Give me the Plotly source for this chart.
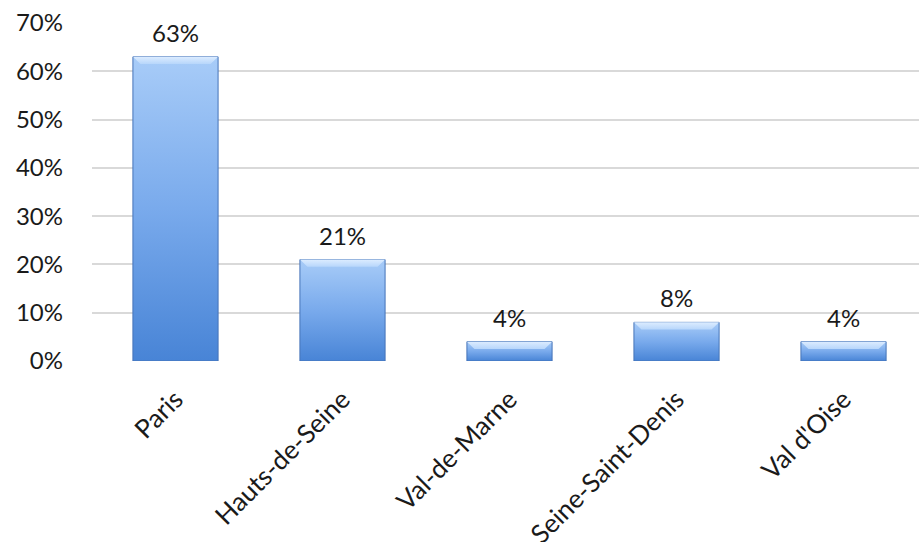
import plotly.graph_objects as go

# Share of respondents by département
categories = ["Paris", "Hauts-de-Seine", "Val-de-Marne", "Seine-Saint-Denis", "Val d'Oise"]
shares = [63, 21, 4, 8, 4]          # percent
y_ticks = [0, 10, 20, 30, 40, 50, 60, 70]
y_tick_labels = [f"{t}%" for t in y_ticks]

FONT = "Lato, 'Open Sans', sans-serif"
BAR_HALF = 0.255      # half bar width in category units
BEVEL_X = 0.045       # top bevel inset (category units)
BEVEL_Y = 1.5         # top bevel depth (percent units)

positions = list(range(len(categories)))
fig = go.Figure()

for x, v in zip(positions, shares):
    x0, x1 = x - BAR_HALF, x + BAR_HALF
    # bar body with vertical gradient, darker at the base
    fig.add_trace(go.Scatter(
        x=[x0, x1, x1, x0, x0], y=[0, 0, v, v, 0],
        mode="lines", fill="toself",
        line=dict(color="#4674b8", width=1),
        fillgradient=dict(type="vertical", start=0, stop=v,
                          colorscale=[[0, "#4884d6"], [0.5, "#79aaec"], [1, "#a8ccf8"]]),
        hoverinfo="skip", showlegend=False,
    ))
    # bevelled highlight along the top edge
    fig.add_trace(go.Scatter(
        x=[x0, x1, x1 - BEVEL_X, x0 + BEVEL_X, x0],
        y=[v, v, v - BEVEL_Y, v - BEVEL_Y, v],
        mode="lines", fill="toself", line=dict(width=0),
        fillgradient=dict(type="vertical", start=v - BEVEL_Y, stop=v,
                          colorscale=[[0, "#b7d6fb"], [1, "#dcecff"]]),
        hoverinfo="skip", showlegend=False,
    ))
    # value label above the bar
    fig.add_annotation(x=x, y=v, text=f"{v}%", showarrow=False,
                       yanchor="bottom", yshift=8,
                       font=dict(family=FONT, size=24, color="#1a1a1a"))

fig.update_layout(
    width=919, height=542,
    margin=dict(l=92, r=0, t=23, b=181),
    paper_bgcolor="white", plot_bgcolor="white",
    font=dict(family=FONT, size=24, color="#1a1a1a"),
    xaxis=dict(range=[-0.5, 4.452], tickvals=positions, ticktext=categories,
               tickangle=-45, showgrid=False, zeroline=False, showline=False,
               ticks="", ticklabelstandoff=17, automargin=False,
               tickfont=dict(family=FONT, size=26, color="#1a1a1a")),
    yaxis=dict(range=[0, 70], tickvals=y_ticks, ticktext=y_tick_labels,
               showgrid=True, gridcolor="#d9d9d9", gridwidth=1.5, automargin=False,
               zeroline=False, showline=False, ticks="", ticklabelstandoff=28),
)

fig.write_html("out.html")
